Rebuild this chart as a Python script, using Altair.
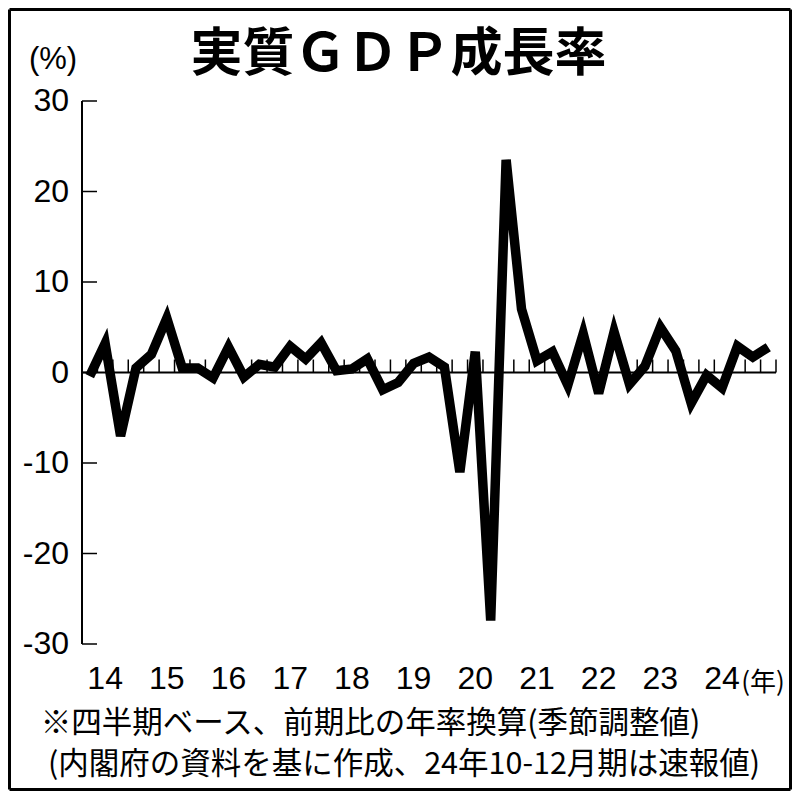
import altair as alt
import pandas as pd

# ---- data ----
quarters = ["2013Q4"] + [f"{y}Q{q}" for y in range(2014, 2025) for q in (1, 2, 3, 4)]
growth = [-0.4, 3.2, -7.0, 0.5, 2.0, 6.0, 0.5, 0.5, -0.6, 2.8,
          -0.5, 0.9, 0.6, 2.9, 1.5, 3.3, 0.2, 0.4, 1.5, -1.9,
          -1.1, 1.0, 1.7, 0.6, -11.0, 2.3, -27.4, 23.5, 7.0, 1.3,
          2.3, -1.4, 4.3, -2.3, 4.5, -1.3, 0.7, 5.0, 2.4, -3.4,
          -0.3, -1.7, 2.9, 1.7, 2.8]
year_labels = ["14", "15", "16", "17", "18", "19", "20", "21", "22", "23", "24"]
year_q1 = ["2014Q1", "2015Q1", "2016Q1", "2017Q1", "2018Q1", "2019Q1",
           "2020Q1", "2021Q1", "2022Q1", "2023Q1", "2024Q1"]
y_ticks = [-30, -20, -10, 0, 10, 20, 30]

title_text = "実質ＧＤＰ成長率"
unit_text = "(%)"
year_unit = "(年)"
note1 = "※四半期ベース、前期比の年率換算(季節調整値)"
note2 = "(内閣府の資料を基に作成、24年10-12月期は速報値)"

# ---- layout ----
W, H = 694, 543
PL, PT = 74, 93
TOTAL_W, TOTAL_H = 784, 783
PR = TOTAL_W - PL - W
PB = TOTAL_H - PT - H

n = len(growth)
line_df = pd.DataFrame({"i": list(range(n)), "q": quarters, "v": growth})
year_df = pd.DataFrame({"i": [quarters.index(q) for q in year_q1], "lab": year_labels})
xtick_df = pd.DataFrame({"t": [k - 0.5 for k in range(n + 1)], "z": [0] * (n + 1)})
ytick_df = pd.DataFrame({"y": y_ticks,
                         "lab": [("-" + str(abs(v))) if v < 0 else str(v) for v in y_ticks]})
zero_df = pd.DataFrame({"xa": [-0.5], "xb": [n - 0.5], "z": [0]})

xs = alt.Scale(domain=[-0.5, n - 0.5], nice=False, zero=False)
ys = alt.Scale(domain=[-30, 30], nice=False, zero=False)

NUM_FONT = "Liberation Sans"
JP_FONT = "Noto Sans CJK JP"


def X(f):
    return alt.X(f, scale=xs, axis=None)


def Y(f):
    return alt.Y(f, scale=ys, axis=None)


base_line = alt.Chart(line_df).mark_line(
    color="black", strokeWidth=9.5, strokeJoin="miter", strokeCap="butt"
).encode(x=X("i:Q"), y=Y("v:Q"))

zero_line = alt.Chart(zero_df).mark_rule(color="black", strokeWidth=2).encode(
    x=X("xa:Q"), x2="xb:Q", y=Y("z:Q")
)

x_ticks = alt.Chart(xtick_df).mark_rule(color="black", strokeWidth=1.5).encode(
    x=X("t:Q"), y=Y("z:Q"), y2=alt.value(H / 2 - 13)
)

y_tick_rules = alt.Chart(ytick_df).mark_rule(color="black", strokeWidth=1.5).encode(
    y=Y("y:Q"), x=alt.value(0), x2=alt.value(15)
)

y_labels = alt.Chart(ytick_df).mark_text(
    font=NUM_FONT, fontSize=32, align="right", baseline="middle", color="black"
).encode(y=Y("y:Q"), x=alt.value(-13), text="lab:N")

x_labels = alt.Chart(year_df).mark_text(
    font=NUM_FONT, fontSize=32, align="center", baseline="middle", color="black"
).encode(x=X("i:Q"), y=alt.value(H + 35), text="lab:N")


def label(txt, x, y, size, font, weight="normal", align="center"):
    return alt.Chart(pd.DataFrame({"t": [txt]})).mark_text(
        font=font, fontSize=size, fontWeight=weight, align=align, baseline="middle", color="black"
    ).encode(x=alt.value(x), y=alt.value(y), text="t:N")


def rule(x1, x2, y1, y2, w):
    return alt.Chart(pd.DataFrame({"a": [0]})).mark_rule(color="black", strokeWidth=w).encode(
        x=alt.value(x1), x2=alt.value(x2), y=alt.value(y1), y2=alt.value(y2)
    )


title = label(title_text, 316.5, -46, 52, JP_FONT, weight="bold")
unit = label(unit_text, -29, -41, 31, NUM_FONT)
yunit = label(year_unit, 681, 582, 26, JP_FONT)
n1 = label(note1, 288.5, 623, 30.5, JP_FONT)
n2 = label(note2, 322, 664, 30.5, JP_FONT)

# y axis line
y_axis = rule(0, 0, 0, H, 2)

# outer frame
L, R, T, B = -PL + 1.5, W + PR - 1.5, -PT + 1.5, H + PB - 1.5
frame = [rule(L, R, T, T, 3), rule(L, R, B, B, 3), rule(L, L, T, B, 3), rule(R, R, T, B, 3)]

chart = alt.layer(
    *frame, y_axis, zero_line, x_ticks, y_tick_rules, base_line, y_labels, x_labels,
    title, unit, yunit, n1, n2
).properties(
    width=W, height=H,
    autosize=alt.AutoSizeParams(type="none"),
    padding={"left": PL, "top": PT, "right": PR, "bottom": PB},
    background="white",
).configure_view(strokeWidth=0)

chart.save("out.html", embed_options={"renderer": "svg", "actions": False})
